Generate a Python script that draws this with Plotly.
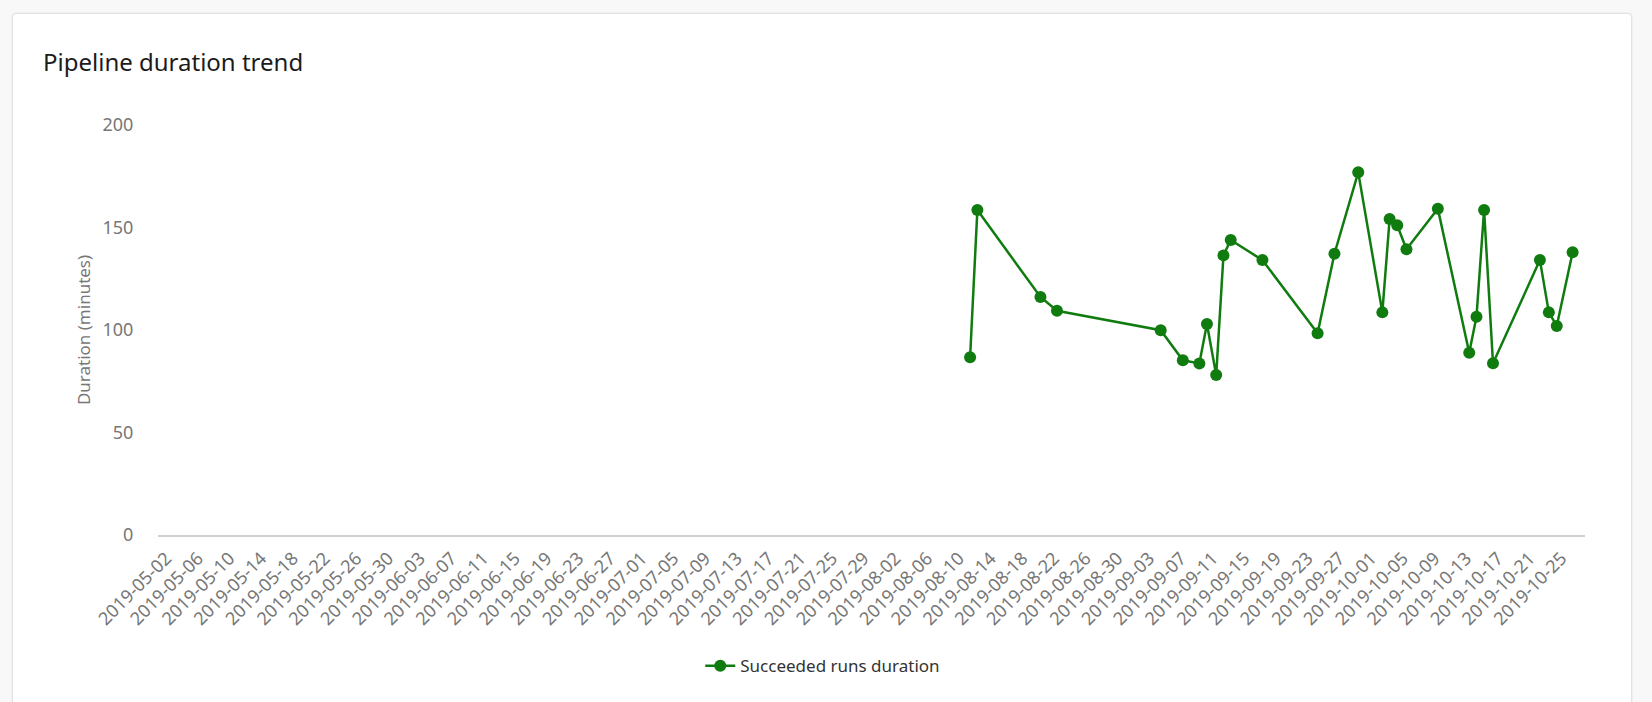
import plotly.graph_objects as go

run_times = [
    "2019-08-11 22:00", "2019-08-12 20:00", "2019-08-20 19:00", "2019-08-22 21:00",
    "2019-09-04 23:00", "2019-09-07 18:00", "2019-09-09 20:00", "2019-09-10 19:00",
    "2019-09-11 23:00", "2019-09-12 21:00", "2019-09-13 19:00", "2019-09-17 19:00",
    "2019-09-24 18:00", "2019-09-26 21:00", "2019-09-29 21:00", "2019-10-02 22:00",
    "2019-10-03 20:00", "2019-10-04 19:00", "2019-10-05 23:00", "2019-10-09 22:00",
    "2019-10-13 21:00", "2019-10-14 19:00", "2019-10-15 18:00", "2019-10-16 21:00",
    "2019-10-22 19:00", "2019-10-23 22:00", "2019-10-24 22:00", "2019-10-26 22:00",
]
durations = [
    86.7, 158.5, 116.1, 109.4,
    99.9, 85.2, 83.7, 102.9,
    78.0, 136.4, 143.9, 134.1,
    98.4, 137.2, 176.9, 108.6,
    154.1, 151.1, 139.4, 159.2,
    88.9, 106.5, 158.5, 83.8,
    134.1, 108.6, 102.0, 137.9,
]
x_range = ["2019-05-01 11:30", "2019-10-28 11:30"]
first_tick = "2019-05-02"
y_ticks = [0, 50, 100, 150, 200]

FONT = "Segoe UI, Noto Sans, Open Sans, sans-serif"
GREEN = "#107C10"

fig = go.Figure()
fig.add_trace(go.Scatter(
    x=run_times, y=durations, mode="lines+markers",
    name="Succeeded runs duration",
    line=dict(color=GREEN, width=2.5),
    marker=dict(color=GREEN, size=12),
))

# card background (pixel-sized shapes anchored at plot-area bottom-left)
def rounded(x0, y0, x1, y1, r):
    return (f"M{x0+r},{y1} L{x1-r},{y1} Q{x1},{y1} {x1},{y1-r} "
            f"L{x1},{y0} L{x0},{y0} L{x0},{y1-r} Q{x0},{y1} {x0+r},{y1} Z")

shapes = []
for off, col in [(2, "rgba(0,0,0,0.03)"), (1, "rgba(0,0,0,0.05)")]:
    shapes.append(dict(type="path", xref="paper", yref="paper", xsizemode="pixel", ysizemode="pixel",
                       xanchor=0, yanchor=0, layer="below",
                       path=rounded(-145 - off, -200, 1473 + off, 521 + off, 5),
                       fillcolor=col, line=dict(width=0)))
shapes.append(dict(type="path", xref="paper", yref="paper", xsizemode="pixel", ysizemode="pixel",
                   xanchor=0, yanchor=0, layer="below",
                   path=rounded(-145, -200, 1473, 521, 4),
                   fillcolor="white", line=dict(width=0)))

fig.update_layout(
    width=1652, height=702,
    margin=dict(l=158, r=67, t=125, b=167),
    paper_bgcolor="#f8f8f8", plot_bgcolor="rgba(0,0,0,0)",
    font=dict(family=FONT, color="#777777", size=16),
    title=dict(text="Pipeline duration trend", xref="container", yref="container",
               x=43 / 1652, xanchor="left", y=1 - 63 / 702, yanchor="middle",
               font=dict(family=FONT, size=24, color="#1b1b1b")),
    shapes=shapes,
    showlegend=True,
    legend=dict(orientation="h", x=0.38, xanchor="left", y=-0.32, yanchor="middle",
                font=dict(family=FONT, size=17, color="#333333"), bgcolor="rgba(0,0,0,0)"),
    xaxis=dict(type="date", range=x_range, tick0=first_tick, dtick=4 * 86400000,
               tickformat="%Y-%m-%d", tickangle=-45, showgrid=False, zeroline=False,
               showline=True, linecolor="#d0d0d0", linewidth=1.5,
               ticks="outside", ticklen=4, tickcolor="rgba(0,0,0,0)", ticklabelshift=4,
               tickfont=dict(family=FONT, size=18, color="#777777")),
    yaxis=dict(range=[0, 200], tickvals=y_ticks, showgrid=False, zeroline=False,
               showline=False, ticks="outside", ticklen=20, tickcolor="rgba(0,0,0,0)",
               tickfont=dict(family=FONT, size=18, color="#777777")),
)
fig.update_yaxes(title=dict(text="Duration (minutes)", standoff=7,
                            font=dict(family=FONT, size=17, color="#777777")))

fig.write_html("out.html", config={"displayModeBar": False},
               post_script="document.body.style.margin='0';document.body.style.background='#f8f8f8';")
